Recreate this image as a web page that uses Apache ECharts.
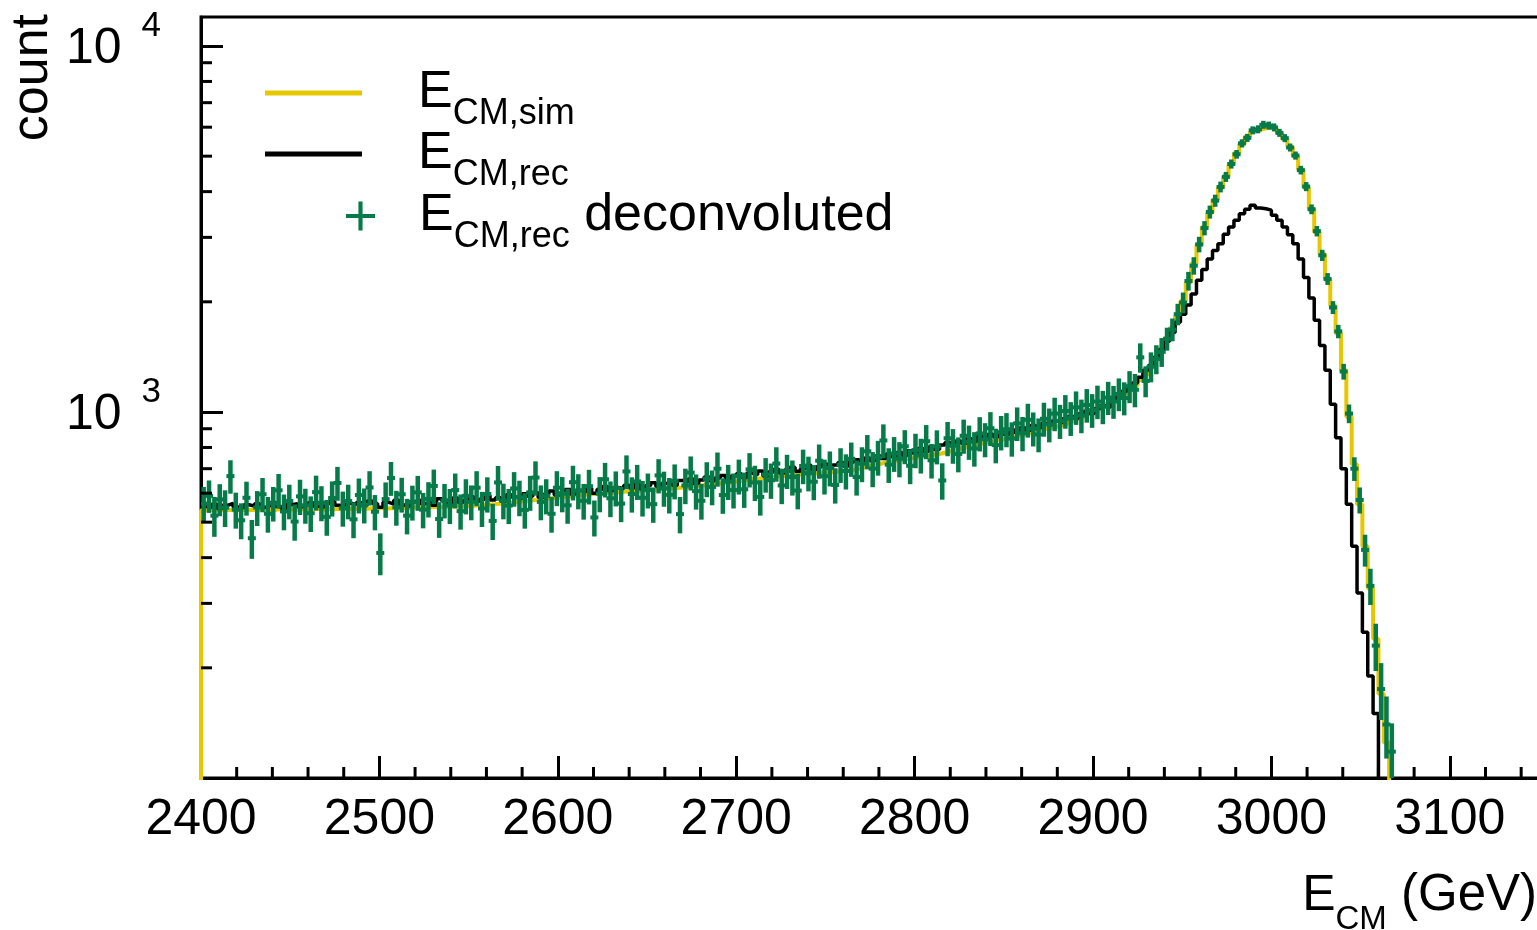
<!DOCTYPE html>
<html><head><meta charset="utf-8">
<script src="https://cdn.jsdelivr.net/npm/echarts@6/dist/echarts.min.js"></script>
<style>html,body{margin:0;padding:0;background:#fff}#c{width:1537px;height:930px}</style>
</head><body><div id="c"></div>
<script>
const binStart = 2400;
const binWidth = 3;

const simCounts = [
539,540,538,540,541,539,540,541,539,541,
540,542,540,541,543,540,542,541,543,541,
542,544,541,543,542,544,543,545,543,545,
544,546,545,547,545,547,546,548,547,549,
548,550,549,551,550,552,551,553,552,554,
554,556,557,559,560,562,564,566,567,570,
571,574,575,578,580,582,584,587,589,591,
592,595,596,598,599,601,602,604,605,607,
608,609,611,612,613,615,616,618,620,622,
624,626,629,631,633,636,638,641,643,646,
649,651,654,657,659,662,664,667,669,671,
673,675,677,679,680,682,684,686,688,690,
692,695,700,706,711,717,722,728,732,736,
740,744,748,752,756,760,764,768,774,781,
788,795,802,809,815,820,826,831,837,843,
849,855,862,869,877,885,892,899,906,913,
921,930,942,955,969,984,1000,1017,1035,1054,
1075,1098,1123,1150,1180,1222,1268,1325,1400,1490,
1590,1700,1830,2010,2260,2540,2860,3200,3500,3800,
4100,4400,4750,5100,5400,5650,5820,5900,5960,5990,
5940,5780,5580,5300,5000,4600,4100,3600,3100,2700,
2300,1950,1640,1300,970,720,560,430,330,240,
170,125
];

const recCounts = [
552,548,560,545,556,563,550,547,558,553,
561,549,555,566,552,544,558,562,551,557,
565,553,548,561,569,556,550,563,558,566,
554,571,562,549,567,560,574,557,552,569,
575,562,568,556,579,571,563,582,566,574,
587,570,578,591,575,583,570,594,586,579,
598,589,602,584,596,608,593,601,614,597,
611,605,619,600,615,626,609,622,617,631,
621,634,616,629,641,626,638,645,631,650,
643,656,638,652,664,649,660,671,655,668,
678,662,681,673,690,668,686,698,681,694,
706,689,700,715,696,709,721,704,716,728,
712,730,741,725,749,736,758,746,768,754,
775,762,784,771,795,781,804,790,812,826,
809,833,821,845,832,858,844,869,856,880,
868,893,879,905,891,918,906,931,920,945,
934,958,972,960,989,1004,991,1022,1040,1031,
1085,1110,1140,1175,1200,1245,1300,1340,1410,1480,
1560,1650,1760,1850,1960,2100,2290,2450,2620,2760,
2880,3060,3200,3340,3480,3580,3670,3610,3590,3560,
3450,3340,3200,3050,2880,2620,2330,2050,1780,1520,
1300,1050,850,700,560,430,320,250,190,150
];

const deconvCounts = [
562,590,521,577,548,668,541,506,583,452,
548,596,527,563,611,535,571,502,588,556,
529,604,565,517,582,640,546,571,509,593,
557,622,534,412,578,660,549,596,521,567,
603,541,579,628,510,574,555,612,536,590,
568,621,545,597,504,642,573,555,618,584,
540,603,662,568,590,527,621,598,556,643,
609,572,627,515,598,655,581,620,562,688,
597,646,583,612,560,671,619,594,648,526,
630,683,608,572,657,624,700,593,646,612,
668,615,697,642,586,675,651,723,630,690,
664,610,712,681,645,736,668,703,632,718,
690,745,664,722,781,700,752,836,718,770,
745,806,713,787,762,832,738,805,650,848,
810,768,861,829,795,874,842,903,812,880,
897,846,931,875,952,901,868,958,924,990,
945,1006,962,1030,978,1045,1012,1068,1034,1095,
1068,1120,1092,1175,1150,1410,1215,1330,1395,1460,
1585,1680,1850,1990,2280,2510,2870,3180,3520,3780,
4120,4390,4760,5060,5420,5610,5880,5920,6090,6060,
5990,5790,5600,5280,5020,4580,4130,3580,3120,2680,
2310,1930,1660,1290,990,700,575,420,335,230,
175,140,118
];

const deconvErrors = [
62,60,65,58,63,70,61,57,62,55,
60,64,59,61,66,60,62,57,65,61,
59,66,62,58,64,68,60,62,57,65,
61,67,59,54,64,70,60,65,58,62,
66,60,64,68,57,62,61,67,59,65,
62,68,60,66,57,70,64,61,67,65,
60,66,71,62,65,59,68,66,61,70,
67,64,68,58,66,71,65,68,62,73,
66,71,65,67,62,72,68,66,71,60,
70,73,67,64,72,68,75,66,71,67,
73,68,75,71,65,73,72,78,70,74,
73,68,77,74,71,79,73,77,70,78,
76,80,73,79,84,77,82,89,78,84,
82,86,78,85,83,89,80,86,74,91,
88,84,92,89,86,94,90,96,88,95,
96,91,98,94,101,96,92,102,98,104,
101,106,102,108,103,110,107,112,108,114,
110,115,113,118,120,130,118,125,127,132,
114,120,125,130,134,138,140,142,144,144,
140,138,136,138,140,142,144,140,138,136,
138,140,136,132,128,124,118,110,102,94,
86,78,70,64,58,52,47,42,38,34,
31,27,23
];

const xMinorTicks = [2420,2440,2460,2480,2520,2540,2560,2580,2620,2640,2660,2680,2720,2740,2760,2780,
  2820,2840,2860,2880,2920,2940,2960,2980,3020,3040,3060,3080,3120,3140];
const yMinorTicks = [200,300,400,500,600,700,800,900,2000,3000,4000,5000,6000,7000,8000,9000];

const xMin = 2400, xMax = 3150, yMin = 100, yMax = 12000;
const YELLOW = '#e6c700', BLACK = '#000000', GREEN = '#077a49';
const FONT = 'Liberation Sans';

function stepData(counts, fromBottom) {
  const pts = [];
  if (fromBottom) pts.push([binStart, 1]);
  counts.forEach((c, i) => pts.push([binStart + i * binWidth, c]));
  pts.push([binStart + counts.length * binWidth, 1]);
  return pts;
}

const legendRich = {
  e: {fontSize: 52, lineHeight: 78, padding: [0, 0, 0, 51], fontFamily: FONT, color: '#000'},
  e3: {fontSize: 52, lineHeight: 78, padding: [0, 0, 0, 39], fontFamily: FONT, color: '#000'},
  s: {fontSize: 36, lineHeight: 30, verticalAlign: 'bottom', fontFamily: FONT, color: '#000'},
  d: {fontSize: 52, lineHeight: 78, fontFamily: FONT, color: '#000'}
};
const legendText = {
  sim: '{e|E}{s|CM,sim}',
  rec: '{e|E}{s|CM,rec}',
  deconv: '{e3|E}{s|CM,rec}{d| deconvoluted}'
};
function legendCfg(name, icon, left, top, w, h) {
  return {
    data: [{name: name, icon: icon}], left: left, top: top, orient: 'vertical',
    itemWidth: w, itemHeight: h, padding: 0, selectedMode: false,
    itemStyle: {borderWidth: 0},
    formatter: n => legendText[n],
    textStyle: {rich: legendRich, fontFamily: FONT, color: '#000'}
  };
}

const chart = echarts.init(document.getElementById('c'), null, {renderer: 'canvas'});
chart.setOption({
  animation: false,
  backgroundColor: '#ffffff',
  textStyle: {fontFamily: FONT},
  grid: {left: 201, top: 17, width: 1338, height: 761, containLabel: false, outerBoundsMode: 'none',
    show: true, borderColor: '#000', borderWidth: 3, backgroundColor: 'transparent'},
  legend: [
    legendCfg('sim', 'rect', 265, 67, 97, 5),
    legendCfg('rec', 'rect', 265, 128, 97, 5),
    legendCfg('deconv', 'path://M12,0H16V28H12ZM0,12H28V16H0Z', 346, 190, 29, 30)
  ],
  graphic: [{
    type: 'text', x: 33, y: 14, rotation: Math.PI / 2,
    style: {text: 'count', fontSize: 52, fontFamily: FONT, fill: '#000', align: 'right', textAlign: 'right', verticalAlign: 'middle', textVerticalAlign: 'middle'}
  }],
  xAxis: {
    type: 'value', min: xMin, max: xMax, interval: 100,
    axisLine: {show: true, onZero: false, lineStyle: {color: '#000', width: 3}},
    axisTick: {show: true, inside: true, length: 22, lineStyle: {color: '#000', width: 3}},
    axisLabel: {margin: 17, fontSize: 50, fontFamily: FONT, color: '#000', showMaxLabel: false,
      formatter: v => (v % 100 === 0 && v < xMax ? String(v) : '')},
    splitLine: {show: false},
    name: '{e|E}{s|CM}{t| (GeV)}', nameLocation: 'end', nameGap: -2,
    nameTextStyle: {align: 'right', verticalAlign: 'top', padding: [78, 0, 0, 0],
      rich: {
        e: {fontSize: 50, lineHeight: 80, fontFamily: FONT, color: '#000'},
        s: {fontSize: 33, lineHeight: 34, verticalAlign: 'bottom', fontFamily: FONT, color: '#000'},
        t: {fontSize: 51, lineHeight: 80, fontFamily: FONT, color: '#000'}
      }}
  },
  yAxis: {
    type: 'log', logBase: 10, min: yMin, max: yMax,
    axisLine: {show: true, lineStyle: {color: '#000', width: 3}},
    axisTick: {show: true, inside: true, length: 22, lineStyle: {color: '#000', width: 3}},
    axisLabel: {margin: 40, color: '#000', showMinLabel: false, showMaxLabel: false, padding: [6, 0, 0, 0],
      formatter: v => {
        const l = Math.log10(v), e = Math.round(l);
        if (Math.abs(l - e) > 1e-6 || v <= yMin) return '';
        return '{b|10}{sup|' + e + '}';
      },
      rich: {
        b: {fontSize: 50, lineHeight: 80, verticalAlign: 'middle', fontFamily: FONT, color: '#000'},
        sup: {fontSize: 35, lineHeight: 35, padding: [0, 0, 0, 20], verticalAlign: 'top', fontFamily: FONT, color: '#000'}
      }},
    splitLine: {show: false}
  },
  series: [
    {
      name: 'sim', type: 'line', step: 'end', symbol: 'none', showSymbol: false, z: 2,
      data: stepData(simCounts, true),
      itemStyle: {color: YELLOW}, lineStyle: {color: YELLOW, width: 4}
    },
    {
      name: 'rec', type: 'line', step: 'end', symbol: 'none', showSymbol: false, z: 3,
      data: stepData(recCounts, false),
      itemStyle: {color: BLACK}, lineStyle: {color: BLACK, width: 3.5}
    },
    {
      name: 'deconv', type: 'custom', coordinateSystem: 'cartesian2d', z: 4, clip: true,
      itemStyle: {color: GREEN},
      encode: {x: 0, y: 1},
      data: deconvCounts.map((c, i) => [binStart + (i + 0.5) * binWidth, c, deconvErrors[i]]),
      renderItem: function (params, api) {
        const x = api.value(0), v = api.value(1), e = api.value(2);
        const p = api.coord([x, v]);
        const l = api.coord([x - binWidth / 2, v]);
        const r = api.coord([x + binWidth / 2, v]);
        const t = api.coord([x, v + e]);
        const b = api.coord([x, Math.max(v - e, 1)]);
        const hl = Math.min(l[0] - 1, p[0] - 4), hr = Math.max(r[0] + 1, p[0] + 4);
        const vt = Math.min(t[1], p[1] - 4), vb = Math.max(b[1], p[1] + 4);
        return {type: 'group', children: [
          {type: 'line', shape: {x1: hl, y1: p[1], x2: hr, y2: p[1]}, style: {stroke: GREEN, lineWidth: 4}},
          {type: 'line', shape: {x1: p[0], y1: vt, x2: p[0], y2: vb}, style: {stroke: GREEN, lineWidth: 4.5}}
        ]};
      }
    },
    {
      name: 'xMinorTicks', type: 'custom', coordinateSystem: 'cartesian2d', z: 5, silent: true, clip: false,
      data: xMinorTicks.map(t => [t, yMin]),
      renderItem: function (params, api) {
        const p = api.coord([api.value(0), api.value(1)]);
        return {type: 'line', shape: {x1: p[0], y1: p[1], x2: p[0], y2: p[1] - 11}, style: {stroke: '#000', lineWidth: 3}};
      }
    },
    {
      name: 'yMinorTicks', type: 'custom', coordinateSystem: 'cartesian2d', z: 5, silent: true, clip: false,
      data: yMinorTicks.map(t => [xMin, t]),
      renderItem: function (params, api) {
        const p = api.coord([api.value(0), api.value(1)]);
        return {type: 'line', shape: {x1: p[0], y1: p[1], x2: p[0] + 11, y2: p[1]}, style: {stroke: '#000', lineWidth: 3}};
      }
    }
  ]
});
</script>
</body></html>
